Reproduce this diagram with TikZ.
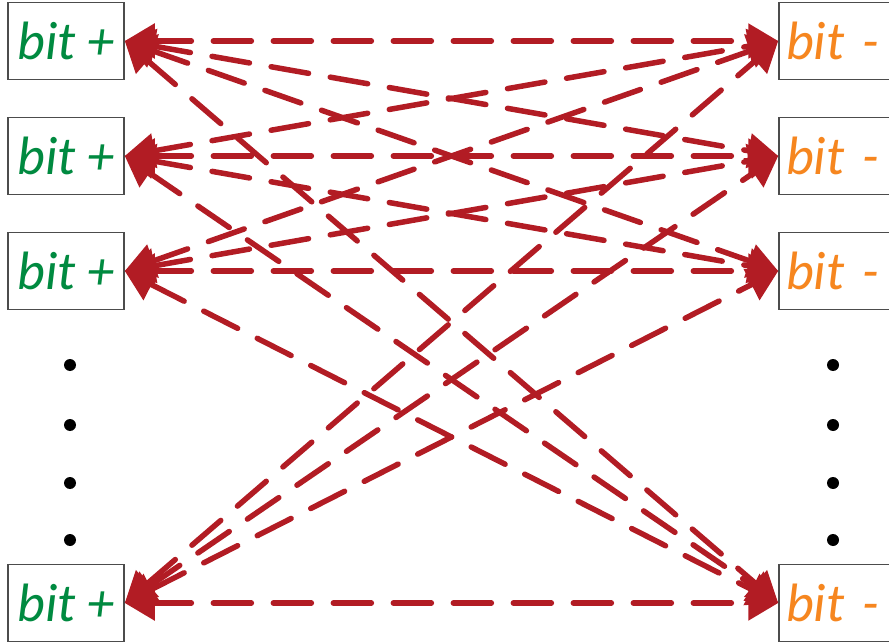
\documentclass[tikz,border=0pt]{standalone}
\usepackage{fontspec}
\setmainfont{Carlito}
\usetikzlibrary{arrows.meta}
\definecolor{bitgreen}{RGB}{0,138,64}
\definecolor{bitorange}{RGB}{246,134,31}
\definecolor{linkred}{RGB}{178,28,36}
\tikzset{
  plusbox/.style={rectangle, draw=black!70, line width=1.5pt, fill=white, minimum width=116pt, minimum height=77pt, inner sep=0pt, font=\fontsize{54}{60}\selectfont\itshape, text=bitgreen},
  minusbox/.style={rectangle, draw=black!70, line width=1.5pt, fill=white, minimum width=116pt, minimum height=77pt, inner sep=0pt, text width=102pt, align=left, font=\fontsize{54}{60}\selectfont\itshape, text=bitorange},
  dot/.style={circle, fill=black, minimum size=12pt, inner sep=0pt},
  link/.style={{Triangle[length=30pt,width=34pt]}-{Triangle[length=30pt,width=34pt]}, line width=5.5pt, linkred, dash pattern=on 38pt off 22pt, line cap=round}
}

\begin{document}
\begin{tikzpicture}[x=1pt,y=-1pt]
  \useasboundingbox (0,0) rectangle (889,644);
  \node[plusbox] (l1) at (66,41) {bit +};
  \node[plusbox] (l2) at (66,156) {bit +};
  \node[plusbox] (l3) at (66,271) {bit +};
  \node[plusbox] (l4) at (66,603) {bit +};
  \node[minusbox] (r1) at (837,41) {bit -};
  \node[minusbox] (r2) at (837,156) {bit -};
  \node[minusbox] (r3) at (837,271) {bit -};
  \node[minusbox] (r4) at (837,603) {bit -};
  \node[dot] (ld1) at (70,365) {}; \node[dot] (ld2) at (70,425) {};
  \node[dot] (ld3) at (70,483) {}; \node[dot] (ld4) at (70,540) {};
  \node[dot] (rd1) at (833,365) {}; \node[dot] (rd2) at (833,425) {};
  \node[dot] (rd3) at (833,483) {}; \node[dot] (rd4) at (833,540) {};
  % every bit+ to every bit-
  \draw[link] (l1.east)--(r1.west); \draw[link] (l1.east)--(r2.west);
  \draw[link] (l1.east)--(r3.west); \draw[link] (l1.east)--(r4.west);
  \draw[link] (l2.east)--(r1.west); \draw[link] (l2.east)--(r2.west);
  \draw[link] (l2.east)--(r3.west); \draw[link] (l2.east)--(r4.west);
  \draw[link] (l3.east)--(r1.west); \draw[link] (l3.east)--(r2.west);
  \draw[link] (l3.east)--(r3.west); \draw[link] (l3.east)--(r4.west);
  \draw[link] (l4.east)--(r1.west); \draw[link] (l4.east)--(r2.west);
  \draw[link] (l4.east)--(r3.west); \draw[link] (l4.east)--(r4.west);
\end{tikzpicture}
\end{document}
